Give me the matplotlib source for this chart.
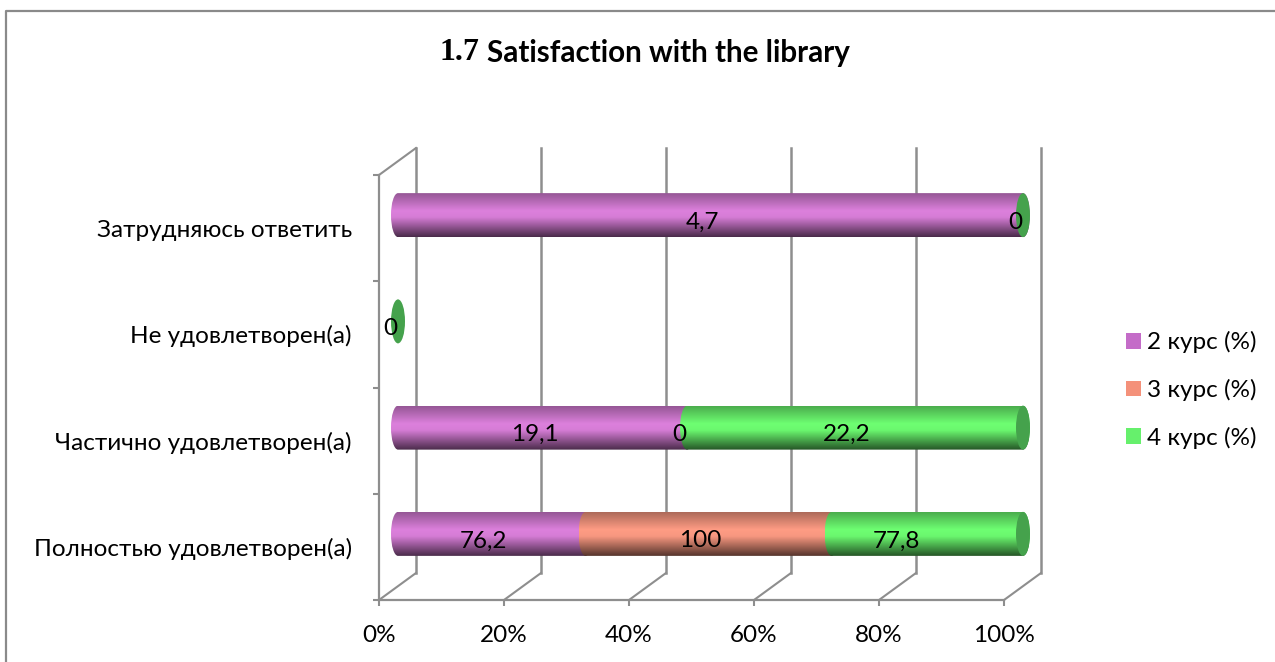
import numpy as np
import matplotlib
matplotlib.use("Agg")
import matplotlib.pyplot as plt
from matplotlib.path import Path
from matplotlib.patches import PathPatch, Patch
from matplotlib.transforms import ScaledTranslation
from matplotlib.colors import to_rgb

categories = ["Полностью удовлетворен(а)", "Частично удовлетворен(а)", "Не удовлетворен(а)", "Затрудняюсь ответить"]
series_names = ["2 курс (%)", "3 курс (%)", "4 курс (%)"]
course2 = [76.2, 19.1, 0, 4.7]
course3 = [100, 0, 0, 0]
course4 = [77.8, 22.2, 0, 0]
label2 = ["76,2", "19,1", None, "4,7"]
label3 = ["100", "0", None, None]
label4 = ["77,8", "22,2", "0", "0"]
x_ticks = [0, 20, 40, 60, 80, 100]
x_tick_labels = ["0%", "20%", "40%", "60%", "80%", "100%"]
title_num = "1.7"
title_text = "Satisfaction with the library"

body_colors = ["#DC80DC", "#FF9C84", "#6EFF72"]
legend_colors = ["#C46CC8", "#F4917A", "#66F06C"]
cap_color = "#45A24C"
grid_color = "#8E8E8E"
FONT = ["Lato", "Noto Sans", "DejaVu Sans"]
FS = 17.5

W, H, DPI = 1275, 662, 100
plt.rcParams["font.family"] = FONT
fig = plt.figure(figsize=(W / DPI, H / DPI), dpi=DPI, facecolor="white")
L, R, T, B = 379, 1004, 175, 600
ax = fig.add_axes([L / W, 1 - B / H, (R - L) / W, (B - T) / H])
ax.set_xlim(0, 100)
ax.set_ylim(0, 4)
ax.patch.set_alpha(0)

def px_offset(dx, dy):
    return ScaledTranslation(dx / DPI, -dy / DPI, fig.dpi_scale_trans)

# frame
for s in ["top", "right"]:
    ax.spines[s].set_visible(False)
for s in ["bottom", "left"]:
    ax.spines[s].set_color(grid_color)
    ax.spines[s].set_linewidth(1.6)
ax.set_xticks(x_ticks, x_tick_labels, fontsize=FS, color="black")
ax.set_yticks([0.5, 1.5, 2.5, 3.5], categories, fontsize=FS, color="black")
ax.set_yticks([0, 1, 2, 3, 4], minor=True)
ax.tick_params(axis="x", length=4.5, width=1.5, color=grid_color, pad=13.5)
ax.tick_params(axis="y", which="major", length=0, pad=19.5)
ax.tick_params(axis="y", which="minor", length=4.5, width=1.5, color=grid_color)

# back wall: vertical gridlines and depth diagonals
back = px_offset(37, -27)
for xv in x_ticks:
    ax.plot([xv, xv], [0, 4], color=grid_color, lw=1.8, transform=ax.transData + back, clip_on=False, zorder=1)
fig.canvas.draw()
for xv, yv in [(v, 0) for v in x_ticks] + [(0, 4)]:
    p0 = ax.transData.transform((xv, yv))
    line_px = np.array([p0, p0 + np.array([37, 27])])
    fig.add_artist(plt.Line2D(line_px[:, 0] / W, line_px[:, 1] / H, color=grid_color, lw=1.5, zorder=1))

# cylinders
bar_tr = ax.transData + px_offset(19, -13)
rx = 7 / 625 * 100
bar_h = 44 / (B - T) * 4
K = 0.5523
stops = [0, 0.40, 0.55, 1]
shade = [0.68, 1.0, 0.97, 0.34]

def grad(color):
    rgb = np.array(to_rgb(color))
    t = np.linspace(0, 1, 64)
    s = np.interp(t, stops, shade)[:, None, None]
    return (s * rgb[None, None, :]).clip(0, 1)

def seg_path(x0, x1, yc, h):
    t, b = yc + h / 2, yc - h / 2
    verts = [(x0, t), (x0 - K * rx, t), (x0 - rx, yc + K * h / 2), (x0 - rx, yc),
             (x0 - rx, yc - K * h / 2), (x0 - K * rx, b), (x0, b),
             (x1, b), (x1 + K * rx, b), (x1 + rx, yc - K * h / 2), (x1 + rx, yc),
             (x1 + rx, yc + K * h / 2), (x1 + K * rx, t), (x1, t), (x0, t)]
    codes = [Path.MOVETO] + [Path.CURVE4] * 6 + [Path.LINETO] + [Path.CURVE4] * 6 + [Path.LINETO]
    return Path(verts, codes)

def cap_path(x, yc, h):
    v = [(x, yc + h / 2), (x - K * rx, yc + h / 2), (x - rx, yc + K * h / 2), (x - rx, yc),
         (x - rx, yc - K * h / 2), (x - K * rx, yc - h / 2), (x, yc - h / 2),
         (x + K * rx, yc - h / 2), (x + rx, yc - K * h / 2), (x + rx, yc),
         (x + rx, yc + K * h / 2), (x + K * rx, yc + h / 2), (x, yc + h / 2)]
    return Path(v, [Path.MOVETO] + [Path.CURVE4] * 12)

label_dx = {(0, 2): -23, (1, 2): 0}
for i, cat in enumerate(categories):
    vals = [course2[i], course3[i], course4[i]]
    labs = [label2[i], label3[i], label4[i]]
    total = sum(vals)
    left = 0.0
    yc = i + 0.5
    for j, v in enumerate(vals):
        share = v / total * 100 if total else 0
        if share > 0:
            patch = PathPatch(seg_path(left, left + share, yc, bar_h), transform=bar_tr, fc="none", ec="none",
                              zorder=3 + j, clip_on=False)
            ax.add_patch(patch)
            im = ax.imshow(grad(body_colors[j]), extent=(left - rx, left + share + rx, yc - bar_h / 2, yc + bar_h / 2),
                           aspect="auto", interpolation="bilinear", origin="upper", transform=bar_tr, zorder=3 + j)
            im.set_clip_box(fig.bbox)
            im.set_clip_path(patch)
        if labs[j] is not None:
            mid = left + share / 2
            ax.text(mid, yc, labs[j], ha="center", va="center", fontsize=FS, color="black", zorder=10,
                    clip_on=False,
                    transform=bar_tr + px_offset(-8 + label_dx.get((i, j), 0), 7))
        left += share
    ax.add_patch(PathPatch(cap_path(left, yc, bar_h), transform=bar_tr, fc=cap_color, ec="none", zorder=8, clip_on=False))
ax.set_xlim(0, 100)
ax.set_ylim(0, 4)

# title
fig.text(440 / W, 1 - 53 / H, title_num, family=["Liberation Serif"], fontweight="bold", fontsize=23, va="center", ha="left")
fig.text(487 / W, 1 - 53 / H, title_text, fontweight="bold", fontsize=21.3, va="center", ha="left", family=FONT)

# legend
handles = [Patch(facecolor=c, edgecolor="none", label=n) for c, n in zip(legend_colors, series_names)]
fig.legend(handles=handles, loc="center left", bbox_to_anchor=(1126 / W, 1 - 390 / H), frameon=False, fontsize=FS,
           handlelength=0.62, handleheight=0.62, handletextpad=0.25, labelspacing=1.06, borderpad=0, borderaxespad=0)

# outer border
fig.add_artist(plt.Line2D([6 / W, 6 / W, 1], [0, 1 - 11 / H, 1 - 11 / H], color="#8A8A8A", lw=1.6))

fig.savefig("out.png", dpi=DPI)
